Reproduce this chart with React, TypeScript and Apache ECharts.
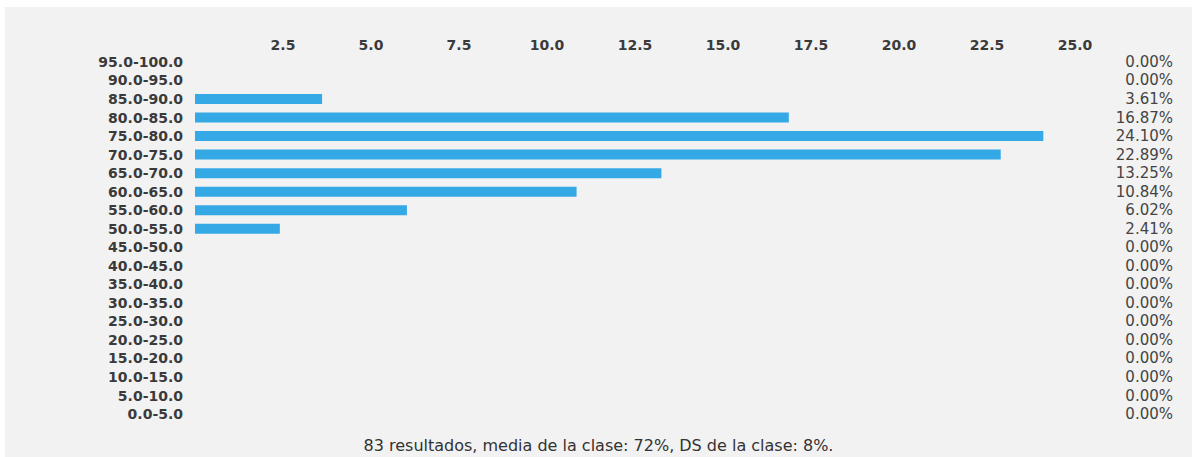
import React, { useEffect, useRef } from "react";
import * as echarts from "echarts";

const categories = [
  "95.0-100.0", "90.0-95.0", "85.0-90.0", "80.0-85.0", "75.0-80.0",
  "70.0-75.0", "65.0-70.0", "60.0-65.0", "55.0-60.0", "50.0-55.0",
  "45.0-50.0", "40.0-45.0", "35.0-40.0", "30.0-35.0", "25.0-30.0",
  "20.0-25.0", "15.0-20.0", "10.0-15.0", "5.0-10.0", "0.0-5.0",
];
const percentages = [
  0, 0, 3.61, 16.87, 24.1, 22.89, 13.25, 10.84, 6.02, 2.41,
  0, 0, 0, 0, 0, 0, 0, 0, 0, 0,
];
const caption = "83 resultados, media de la clase: 72%, DS de la clase: 8%.";

const FONT = "DejaVu Sans";

export default function App() {
  const ref = useRef<HTMLDivElement>(null);
  useEffect(() => {
    if (!ref.current) return;
    const chart = echarts.init(ref.current, null, { renderer: "svg" });
    chart.setOption({
      animation: false,
      backgroundColor: "#f2f2f2",
      title: {
        text: caption,
        left: "center",
        top: 425,
        textStyle: { fontFamily: FONT, fontSize: 16, fontWeight: "normal", color: "#333" },
      },
      grid: { left: 190, right: 117, top: 45.7, bottom: 33.7, containLabel: false },
      xAxis: {
        type: "value",
        position: "top",
        min: 0,
        max: 25,
        interval: 2.5,
        axisLine: { show: false },
        axisTick: { show: false },
        splitLine: { show: false },
        axisLabel: {
          showMinLabel: false,
          margin: 1,
          fontFamily: FONT,
          fontSize: 14,
          fontWeight: "bold",
          color: "#3a3a3a",
          formatter: (v: number) => v.toFixed(1),
        },
      },
      yAxis: [
        {
          type: "category",
          data: categories,
          inverse: true,
          axisLine: { show: false },
          axisTick: { show: false },
          splitLine: { show: false },
          axisLabel: {
            interval: 0,
            margin: 12,
            fontFamily: FONT,
            fontSize: 14,
            fontWeight: "bold",
            color: "#3a3a3a",
          },
        },
        {
          type: "category",
          position: "right",
          data: percentages.map((v) => v.toFixed(2) + "%"),
          inverse: true,
          axisLine: { show: false },
          axisTick: { show: false },
          splitLine: { show: false },
          axisLabel: {
            interval: 0,
            margin: 98,
            align: "right",
            fontFamily: FONT,
            fontSize: 15,
            color: "#444",
          },
        },
      ],
      series: [
        {
          type: "bar",
          data: percentages,
          barWidth: 10,
          itemStyle: { color: "#35a8e6" },
        },
      ],
    });
    return () => chart.dispose();
  }, []);
  return (
    <div style={{ position: "absolute", left: 0, top: 0, width: 1192, height: 457, background: "#fff" }}>
      <div
        ref={ref}
        style={{ position: "absolute", left: 5, top: 7, width: 1187, height: 450 }}
      />
    </div>
  );
}
